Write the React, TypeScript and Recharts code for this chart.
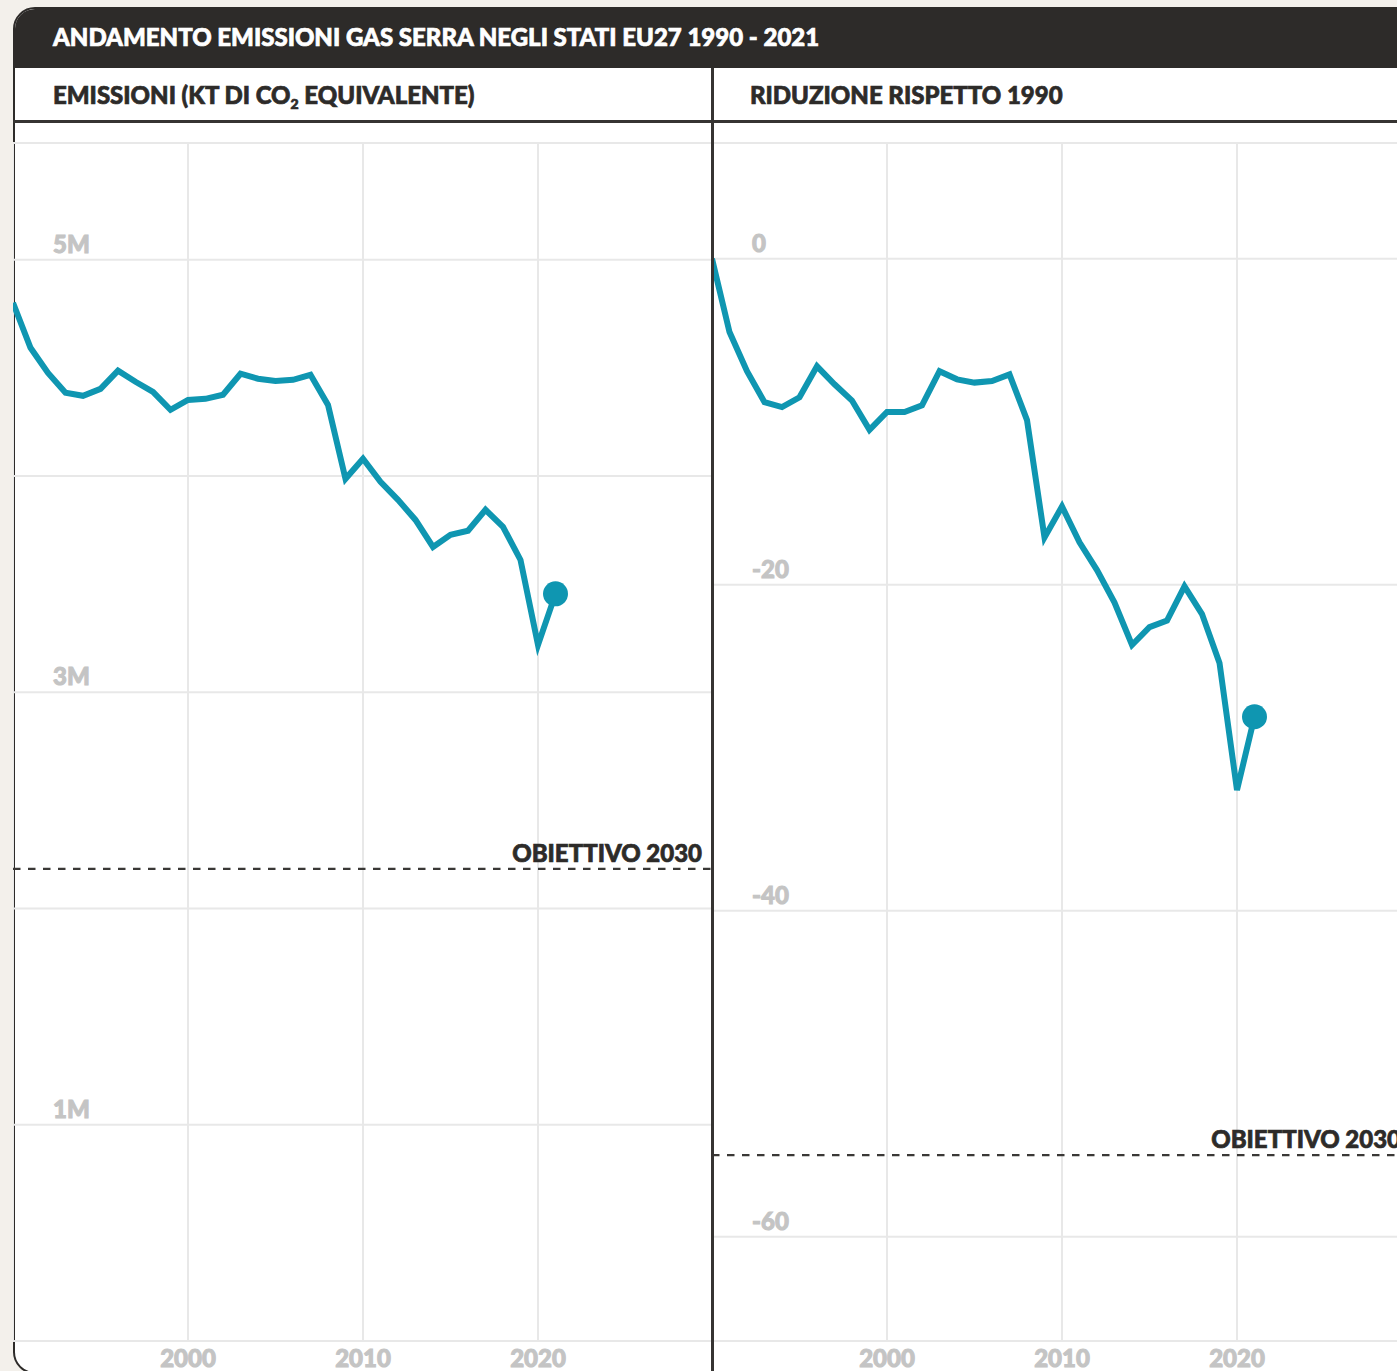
import { LineChart, Line, XAxis, YAxis, CartesianGrid, ReferenceLine } from "recharts";

const YEARS = [
    1990, 1991, 1992, 1993, 1994, 1995, 1996, 1997, 1998, 1999,
    2000, 2001, 2002, 2003, 2004, 2005, 2006, 2007, 2008, 2009,
    2010, 2011, 2012, 2013, 2014, 2015, 2016, 2017, 2018, 2019,
    2020, 2021,
];

// kt CO2 equivalent
const EMISSIONS = [
    4801000, 4593000, 4477000, 4385000, 4371000, 4403000, 4487000, 4436000, 4389000, 4306000,
    4352000, 4357000, 4376000, 4473000, 4450000, 4440000, 4445000, 4468000, 4329000, 3987000,
    4080000, 3973000, 3890000, 3797000, 3672000, 3728000, 3747000, 3844000, 3765000, 3612000,
    3219000, 3455000,
];

// % vs 1990
const REDUCTION = [
    0, -4.5, -6.9, -8.8, -9.1, -8.5, -6.6, -7.7, -8.7, -10.5,
    -9.4, -9.4, -9.0, -6.9, -7.4, -7.6, -7.5, -7.1, -9.9, -17.1,
    -15.2, -17.4, -19.1, -21.1, -23.7, -22.6, -22.2, -20.1, -21.8, -24.8,
    -32.6, -28.1,
];

const X_TICKS = [2000, 2010, 2020];
const EMISSION_TICKS = [0, 1000000, 2000000, 3000000, 4000000, 5000000];
const EMISSION_LABELS: Record<number, string> = { 5000000: "5M", 3000000: "3M", 1000000: "1M" };
const REDUCTION_TICKS = [-60, -40, -20, 0];
const TARGET_EMISSIONS = 2183000;
const TARGET_REDUCTION = -55;

const TEAL = "#0f96b1";
const DARK = "#2d2b29";
const GRID = "#e8e8e8";
const TICK = "#c4c4c4";
const BEIGE = "#f3f0eb";
const FONT = "Lato, 'Open Sans', sans-serif";

// heavier look than Lato Bold alone
const heavy = (color: string, sw = 0.7) => ({
    fill: color, stroke: color, strokeWidth: sw, paintOrder: "stroke" as const,
    fontFamily: FONT, fontWeight: 900, fontSize: 24,
});

interface PanelProps {
    values: number[];
    domain: [number, number];
    yTicks: number[];
    yLabel: (v: number) => string;
    target: number;
    left: number;
}

const Panel = ({ values, domain, yTicks, yLabel, target, left }: PanelProps) => {
    const data = YEARS.map((year, i) => ({ year, value: values[i] }));
    const last = data.length - 1;

    return (
        <div style={{ position: "absolute", left, top: 122 }}>
            <LineChart width={700} height={1249} data={data} margin={{ top: 21, right: 0, bottom: 0, left: -1 }}>
                <CartesianGrid stroke={GRID} strokeWidth={2} />
                <XAxis
                    type="number" dataKey="year" domain={[1990, 2030]} ticks={X_TICKS}
                    height={30} axisLine={{ stroke: GRID, strokeWidth: 2 }} tickLine={false}
                    tick={(p: any) => (
                        <text x={p.x} y={p.y + 18} textAnchor="middle" {...heavy(TICK, 1)}>
                            {p.payload.value}
                        </text>
                    )}
                />
                <YAxis
                    type="number" domain={domain} ticks={yTicks} width={1}
                    axisLine={false} tickLine={false} allowDataOverflow
                    tick={(p: any) => (
                        <text x={40} y={p.y - 7} textAnchor="start" {...heavy(TICK, 1)}>
                            {yLabel(p.payload.value)}
                        </text>
                    )}
                />
                <ReferenceLine
                    y={target} stroke="#3a3836" strokeWidth={2.2} strokeDasharray="7.5 7.5"
                    label={(p: any) => (
                        <text x={p.viewBox.x + p.viewBox.width - 11} y={p.viewBox.y - 7} textAnchor="end" {...heavy(DARK)}>
                            OBIETTIVO 2030
                        </text>
                    )}
                />
                <Line
                    type="linear" dataKey="value" stroke={TEAL} strokeWidth={6}
                    isAnimationActive={false}
                    dot={(p: any) => p.index === last
                        ? <circle key={p.index} cx={p.cx} cy={p.cy} r={12.5} fill={TEAL} />
                        : <g key={p.index} />}
                    activeDot={false}
                />
            </LineChart>
        </div>
    );
};

const App = () => {
    return (
        <div style={{ position: "absolute", left: 0, top: 0, width: 1397, height: 1371, overflow: "hidden", background: BEIGE }}>
            {/* card */}
            <div style={{
                position: "absolute", left: 13, top: 7, width: 1450, height: 1367, boxSizing: "border-box",
                border: `2px solid ${DARK}`, borderRadius: "22px 0 0 22px", background: "#fff", overflow: "hidden",
            }}>
                <div style={{ height: 59, background: DARK }} />
            </div>
            <div style={{ position: "absolute", left: 13, top: 120, width: 1400, height: 2.5, background: "#363432" }} />

            <Panel
                values={EMISSIONS} domain={[0, 5540000]} yTicks={EMISSION_TICKS}
                yLabel={(v) => EMISSION_LABELS[v] ?? ""} target={TARGET_EMISSIONS} left={13}
            />
            <Panel
                values={REDUCTION} domain={[-66.4, 7.1]} yTicks={REDUCTION_TICKS}
                yLabel={(v) => String(v)} target={TARGET_REDUCTION} left={712}
            />

            {/* panel divider above the charts */}
            <div style={{ position: "absolute", left: 711, top: 68, width: 2.5, height: 1310, background: "#363432" }} />

            {/* titles */}
            <svg width={1397} height={130} style={{ position: "absolute", left: 0, top: 0, pointerEvents: "none" }}>
                <text x={53} y={46} {...heavy("#ffffff")}>
                    ANDAMENTO EMISSIONI GAS SERRA NEGLI STATI EU27 1990 - 2021
                </text>
                <text x={53} y={104} {...heavy(DARK)}>
                    EMISSIONI (KT DI CO<tspan fontSize={14} dy={5}>2</tspan><tspan dy={-5}> EQUIVALENTE)</tspan>
                </text>
                <text x={750} y={104} {...heavy(DARK)}>
                    RIDUZIONE RISPETTO 1990
                </text>
            </svg>
        </div>
    );
};

export default App;
